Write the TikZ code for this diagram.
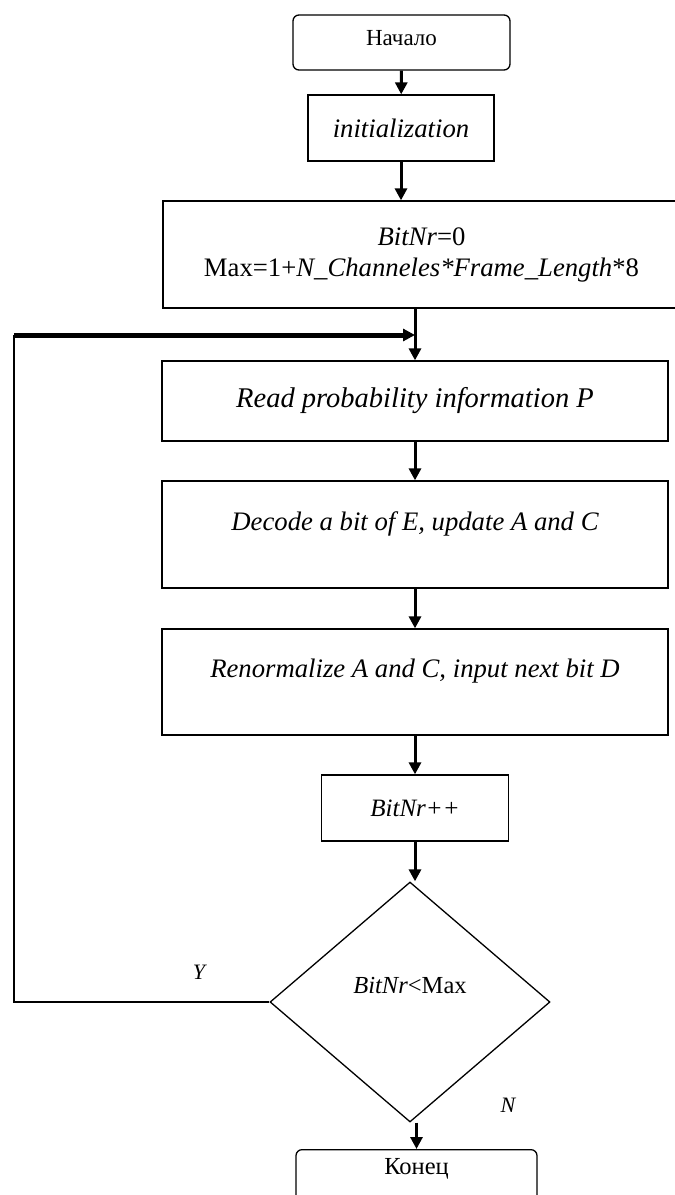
\documentclass[tikz,border=0pt]{standalone}
\usepackage{fontspec}
\setmainfont{Liberation Serif}
\usetikzlibrary{arrows.meta, shapes.geometric}

\begin{document}
\begin{tikzpicture}[x=1pt, y=-1pt,
		every node/.style={draw, line width=1.3pt, inner sep=3pt, font=\fontsize{26.7}{31}\selectfont\itshape},
		block/.style={rectangle},
		term/.style={rectangle, rounded corners=6pt, font=\fontsize{23}{27}\selectfont},
		decision/.style={diamond, inner sep=0pt, minimum width=280pt, minimum height=240pt, font=\fontsize{24.5}{28}\selectfont},
		tag/.style={draw=none, font=\fontsize{22}{26}\selectfont\itshape},
		flow/.style={line width=3pt, -{Triangle[length=12pt, width=12pt]}},
		backline/.style={line width=1.5pt}]
			\path[use as bounding box, fill=white] (0,0) rectangle (675,1195);
			% boxes of the chart, top to bottom
			\node[term, minimum width=217pt, minimum height=55pt, text depth=10pt] (start) at (401.5,42.5) {Начало};
			\node[block, minimum width=186pt, minimum height=66pt] (init) at (401,128) {initialization};
			\node[block, align=center, minimum width=517pt, minimum height=107pt] (setup) at (421.5,254.5) {BitNr\textup{=0}\\[0pt]\textup{Max=1+}N\_Channeles*Frame\_Length\textup{*8}};
			\node[block, minimum width=506pt, minimum height=80pt, font=\fontsize{28.5}{33}\selectfont\itshape] (read) at (415,401) {Read probability information P};
			\node[block, minimum width=506pt, minimum height=107pt, text height=18pt, text depth=27pt] (decode) at (415,534.5) {Decode a bit of E, update A and C};
			\node[block, minimum width=506pt, minimum height=106pt, text height=18pt, text depth=27pt] (renorm) at (415,682) {Renormalize A and C, input next bit D};
			\node[block, minimum width=187pt, minimum height=66pt, font=\fontsize{25}{30}\selectfont\itshape] (bitinc) at (415,808) {BitNr++};
			\node[decision, text height=15pt, text depth=33pt] (test) at (410,1002) {\textit{BitNr}<Max};
			\node[term, anchor=north, minimum width=241pt, minimum height=90pt, text height=15pt, text depth=55pt, font=\fontsize{24.5}{28}\selectfont] (finish) at (416.5,1149) {Конец};
			\node[tag] (yes) at (199,972) {Y};
			\node[tag] (no) at (508,1105) {N};
			\coordinate (corner) at (14,335);
			% connectors
			\draw[flow] (start) -- (init);
			\draw[flow] (init) -- (init |- setup.north);
			\draw[flow] (read.north |- setup.south) -- (read);
			\foreach \from/\to in {read/decode, decode/renorm, renorm/bitinc}
			{
				\draw[flow] (\from) -- (\to);
			}
			\draw[flow] (bitinc) -- (bitinc |- test.north);
			\draw[flow] (finish.north |- test.south) -- (finish.north);
			\draw[backline] (test.west) -- (corner |- test.west) -- (corner);
			\draw[flow, line width=5pt] (corner) -- (read.north |- corner);
		\end{tikzpicture}
\end{document}
